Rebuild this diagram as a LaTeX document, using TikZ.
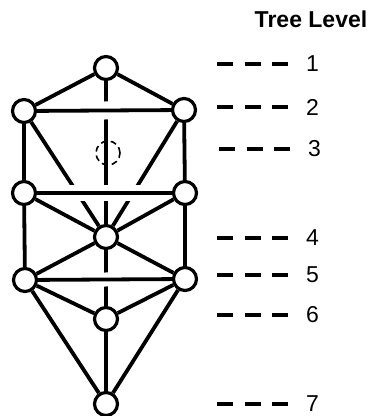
\documentclass[tikz,border=0pt]{standalone}
\usepackage{fontspec}
\setmainfont{Liberation Sans}
\begin{document}
\begin{tikzpicture}[x=1pt,y=-1pt,
  sph/.style={circle, draw, line width=3.2pt, fill=white, minimum size=23pt, inner sep=0pt},
  hid/.style={circle, draw, line width=1.6pt, dash pattern=on 6pt off 4pt, minimum size=24pt, inner sep=0pt},
  conn/.style={line width=3.8pt},
  bridge/.style={conn, preaction={draw=white, line width=#1, shorten <=8pt, shorten >=8pt}},
  lvldash/.style={line width=3.8pt, dash pattern=on 16pt off 11.5pt},
  lvl/.style={font=\fontsize{23}{23}\selectfont, inner sep=0pt, anchor=west},
  ttl/.style={font=\bfseries\fontsize{23}{23}\selectfont, inner sep=0pt},
]
\useasboundingbox (0,0) rectangle (373,416);

% spheres
\node[sph] (K)  at (106,68)  {};
\node[sph] (Bi) at (24,111)  {};
\node[sph] (Ch) at (184,110) {};
\node[sph] (Ge) at (24,193)  {};
\node[sph] (Cs) at (185,193) {};
\node[sph] (T)  at (106,237) {};
\node[sph] (H)  at (25,280)  {};
\node[sph] (N)  at (185,279) {};
\node[sph] (Y)  at (106,319) {};
\node[sph] (M)  at (106,404) {};

% paths that are crossed (with gaps)
\draw[conn] (K) -- (T);
\draw[conn] (Bi) -- (T);
\draw[conn] (Ch) -- (T);
\draw[conn] (T) -- (Y);

% horizontal paths that pass over
\draw[bridge=18pt] (Bi) -- (Ch);
\draw[bridge=16pt] (Ge) -- (Cs);
\draw[bridge=14pt] (H) -- (N);

% remaining paths
\draw[conn] (K) -- (Bi);
\draw[conn] (K) -- (Ch);
\draw[conn] (Bi) -- (Ge);
\draw[conn] (Ch) -- (Cs);
\draw[conn] (Ge) -- (T);
\draw[conn] (Cs) -- (T);
\draw[conn] (Ge) -- (H);
\draw[conn] (Cs) -- (N);
\draw[conn] (H) -- (T);
\draw[conn] (N) -- (T);
\draw[conn] (H) -- (Y);
\draw[conn] (N) -- (Y);
\draw[conn] (H) -- (M);
\draw[conn] (N) -- (M);
\draw[conn] (Y) -- (M);

% hidden sphere
\node[hid] (D) at (108,153) {};

% level legend
\node[ttl] (title) at (311,19) {Tree Level};
\foreach \n/\yy/\dx in {1/64/0, 2/107/0, 3/149/2, 4/238/0, 5/275/0, 6/315/0, 7/404/0}{
  \node[lvl] (L\n) at (306+\dx,\yy) {\n};
  \coordinate (S\n) at (217+\dx,\yy);
  \draw[lvldash] (S\n) -- ++(72,0);
}
\end{tikzpicture}
\end{document}
